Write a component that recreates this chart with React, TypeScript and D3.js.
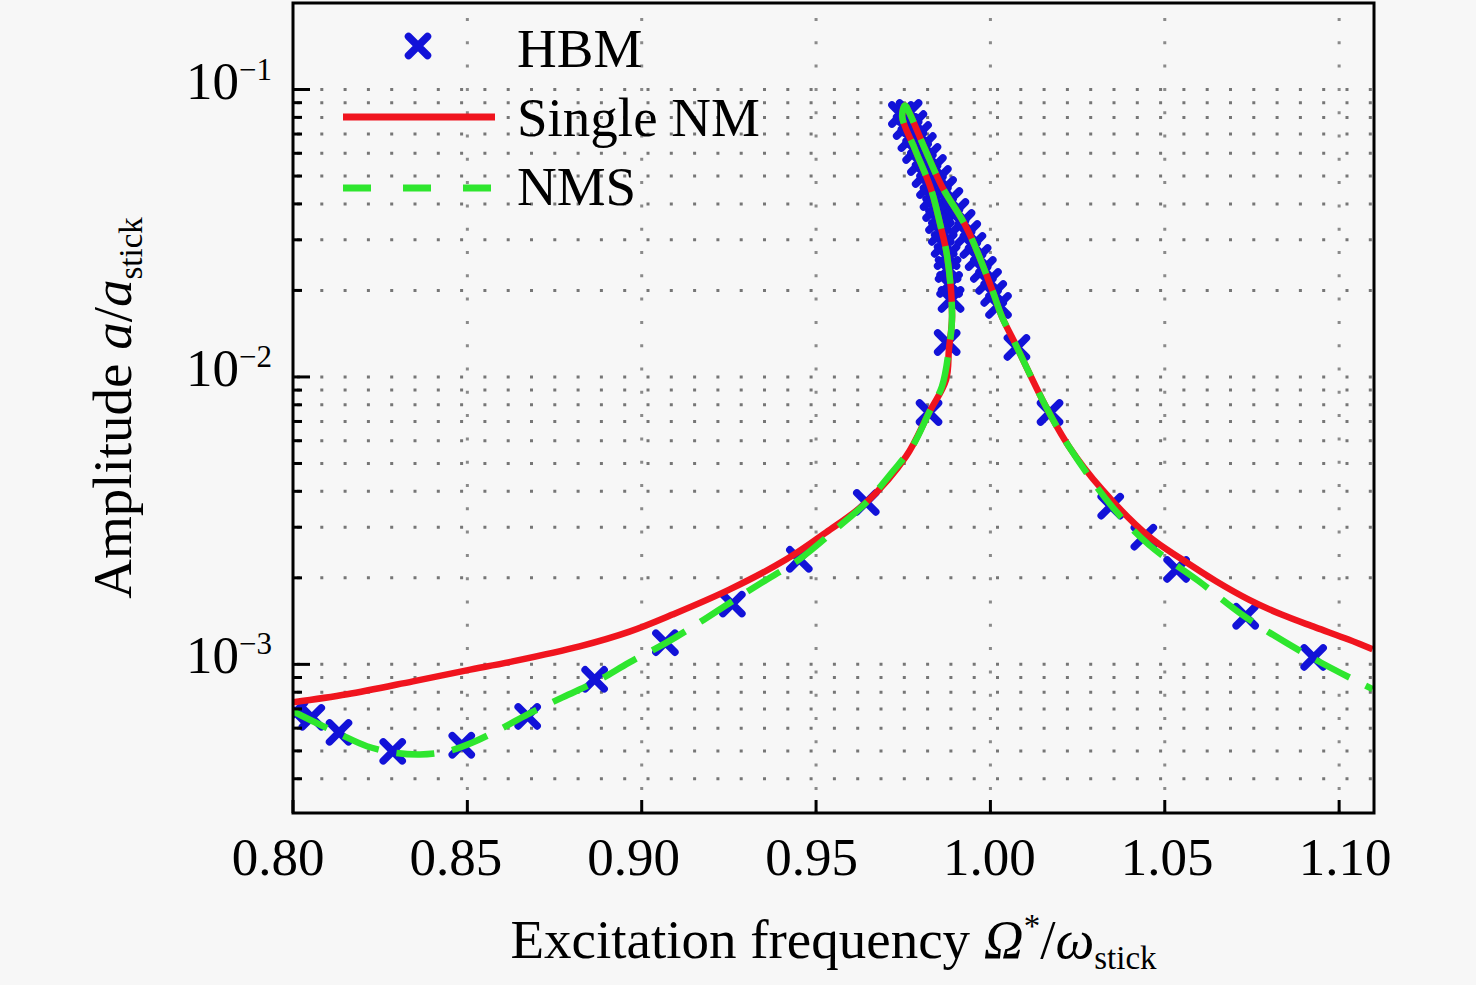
import React, { useRef, useEffect } from 'react';
import * as d3 from 'd3';

// HBM reference solution (markers)
const hbmFreq = [
    // lower left branch
    0.8006, 0.8054, 0.8132, 0.8286, 0.8484, 0.8673, 0.8865, 0.9068, 0.926, 0.9452, 0.9644, 0.9824, 0.9876,
    // left strand of the fold
    0.98872, 0.98829, 0.98786, 0.98757, 0.98674, 0.98594, 0.98511, 0.98428, 0.98354, 0.98253, 0.98127, 0.97993,
    0.97855, 0.9772, 0.97583, 0.97448,
    // right strand of the fold
    0.97669, 0.97806, 0.97941, 0.98076, 0.9821, 0.98365, 0.98508, 0.98657, 0.98837, 0.99011, 0.99187, 0.9935,
    0.99499, 0.99648, 0.99797, 0.99946, 1.00095, 1.00232,
    // right branch
    1.0076, 1.0171, 1.0345, 1.044, 1.0534, 1.0732, 1.0927,
];
const hbmAmp = [
    6.81e-4, 6.54e-4, 5.8e-4, 4.98e-4, 5.23e-4, 6.59e-4, 8.87e-4, 1.19e-3, 1.62e-3, 2.32e-3, 3.66e-3, 7.52e-3, 1.318e-2,
    0.01861, 0.02098, 0.02366, 0.02625, 0.0289, 0.03182, 0.03502, 0.03855, 0.0421, 0.04635, 0.05062, 0.05573,
    0.06135, 0.06753, 0.07435, 0.08185,
    0.08318, 0.07615, 0.06973, 0.06384, 0.05848, 0.05354, 0.04902, 0.04489, 0.04111, 0.03763, 0.03446, 0.03155,
    0.02867, 0.02604, 0.02366, 0.02149, 0.01952, 0.01773,
    0.01267, 7.52e-3, 3.55e-3, 2.77e-3, 2.14e-3, 1.47e-3, 1.057e-3,
];

// fold around the resonance, shared by both models
const peakFreq = [0.989, 0.9876, 0.9856, 0.983, 0.9784, 0.9747, 0.9755, 0.9767, 0.9813, 0.9861, 0.9934, 1.0005, 1.0033, 1.0068, 1.0159];
const peakAmp = [0.01622, 0.02625, 0.0339, 0.0449, 0.0618, 0.0806, 0.088, 0.0832, 0.0618, 0.046, 0.0326, 0.0201, 0.0162, 0.01329, 0.00789];

// Single NM
const singleLeftFreq = [0.8, 0.8155, 0.8344, 0.8498, 0.863, 0.8822, 0.8965, 0.9088, 0.9251, 0.9415, 0.9529, 0.9644, 0.9758, 0.9824, 0.9873, 0.9881];
const singleLeftAmp = [7.38e-4, 7.87e-4, 8.73e-4, 9.53e-4, 1.024e-3, 1.155e-3, 1.3e-3, 1.49e-3, 1.82e-3, 2.32e-3, 2.88e-3, 3.66e-3, 5.29e-3, 7.52e-3, 9.8e-3, 1.247e-2];
const singleRightFreq = [1.0225, 1.032, 1.0454, 1.0549, 1.0646, 1.0741, 1.0835, 1.0932, 1.1027, 1.1096];
const singleRightAmp = [5.73e-3, 4.06e-3, 2.79e-3, 2.32e-3, 1.95e-3, 1.68e-3, 1.49e-3, 1.345e-3, 1.22e-3, 1.128e-3];

// NMS
const nmsLeftFreq = [0.8, 0.8057, 0.8135, 0.8212, 0.8286, 0.8364, 0.8441, 0.8515, 0.8593, 0.8673, 0.8773, 0.8871, 0.8965, 0.9071, 0.9166, 0.926, 0.9346, 0.9452, 0.9566, 0.9644, 0.9718, 0.9776, 0.9824, 0.9861, 0.9881];
const nmsLeftAmp = [6.86e-4, 6.34e-4, 5.71e-4, 5.19e-4, 4.94e-4, 4.86e-4, 4.98e-4, 5.35e-4, 5.94e-4, 6.7e-4, 7.68e-4, 8.73e-4, 1.016e-3, 1.19e-3, 1.4e-3, 1.66e-3, 1.93e-3, 2.32e-3, 3.02e-3, 3.66e-3, 4.66e-3, 5.73e-3, 7.52e-3, 9.27e-3, 1.247e-2];
const nmsRightFreq = [1.0225, 1.0348, 1.0454, 1.0597, 1.0732, 1.0921, 1.1096];
const nmsRightAmp = [5.73e-3, 3.55e-3, 2.61e-3, 1.95e-3, 1.46e-3, 1.057e-3, 8.2e-4];

const xTicks = [0.8, 0.85, 0.9, 0.95, 1.0, 1.05, 1.1];
const yDecades = [-1, -2, -3];
const legendLabels = ['HBM', 'Single NM', 'NMS'];

const FONT = '"Liberation Serif", "Times New Roman", serif';
const RED = '#f0141e';
const GREEN = '#2ee62e';
const BLUE = '#1212d8';

const zip = (a: number[], b: number[]) => a.map((v, i) => [v, b[i]] as [number, number]);

const App: React.FC = () => {
    const svgRef = useRef<SVGSVGElement | null>(null);

    useEffect(() => {
        const svg = d3.select(svgRef.current);
        svg.selectAll('*').remove();

        const left = 293, right = 1374, top = 3, bottom = 813;

        const xScale = d3.scaleLinear().domain([0.8, 1.11]).range([left, right]);
        const yScale = d3.scaleLog().domain([3.04e-4, 0.2]).range([bottom, top]);
        // tick labels sit slightly wider apart than the ticks in the original
        const labelScale = d3.scaleLinear().domain([0.8, 1.1]).range([278, 1345]);

        svg.append('rect').attr('width', 1476).attr('height', 985).attr('fill', '#f7f7f7');

        svg.append('defs').append('clipPath').attr('id', 'plot-clip')
            .append('rect')
            .attr('x', left).attr('y', top)
            .attr('width', right - left).attr('height', bottom - top);

        // minor values for log grid
        const minor: number[] = [];
        for (let d = -4; d <= -1; d++) {
            for (let m = 1; m <= 9; m++) {
                const v = m * Math.pow(10, d);
                if (v >= 3.5e-4 && v <= 0.1 + 1e-9) minor.push(v);
            }
        }

        // dotted grid
        svg.append('g').selectAll('line')
            .data(minor)
            .enter()
            .append('line')
            .attr('x1', left + 4).attr('x2', right)
            .attr('y1', d => yScale(d)).attr('y2', d => yScale(d))
            .attr('stroke', '#767676')
            .attr('stroke-width', 3)
            .attr('stroke-dasharray', '3 20.3');

        svg.append('g').selectAll('line')
            .data(xTicks.slice(1))
            .enter()
            .append('line')
            .attr('x1', d => xScale(d)).attr('x2', d => xScale(d))
            .attr('y1', top + 15).attr('y2', bottom)
            .attr('stroke', '#8a8a8a')
            .attr('stroke-width', 3)
            .attr('stroke-dasharray', '3 20.3');

        const plot = svg.append('g').attr('clip-path', 'url(#plot-clip)');

        // HBM markers
        const cross = 'M-9.5,-9.5L9.5,9.5M-9.5,9.5L9.5,-9.5';
        plot.selectAll('.hbm')
            .data(zip(hbmFreq, hbmAmp))
            .enter()
            .append('path')
            .attr('class', 'hbm')
            .attr('d', cross)
            .attr('transform', d => `translate(${xScale(d[0])},${yScale(d[1])})`)
            .attr('stroke', BLUE)
            .attr('stroke-width', 7.5)
            .attr('stroke-linecap', 'round')
            .attr('fill', 'none');

        const line = d3.line<[number, number]>()
            .x(d => xScale(d[0]))
            .y(d => yScale(d[1]))
            .curve(d3.curveCatmullRom.alpha(0.5));

        const singlePts = [
            ...zip(singleLeftFreq, singleLeftAmp),
            ...zip(peakFreq, peakAmp),
            ...zip(singleRightFreq, singleRightAmp),
        ];
        const nmsPts = [
            ...zip(nmsLeftFreq, nmsLeftAmp),
            ...zip(peakFreq, peakAmp),
            ...zip(nmsRightFreq, nmsRightAmp),
        ];

        plot.append('path')
            .attr('d', line(singlePts))
            .attr('fill', 'none')
            .attr('stroke', RED)
            .attr('stroke-width', 6.5)
            .attr('stroke-linejoin', 'round');

        plot.append('path')
            .attr('d', line(nmsPts))
            .attr('fill', 'none')
            .attr('stroke', GREEN)
            .attr('stroke-width', 6.5)
            .attr('stroke-dasharray', '38 18');

        // frame
        svg.append('rect')
            .attr('x', left).attr('y', top)
            .attr('width', right - left).attr('height', bottom - top)
            .attr('fill', 'none')
            .attr('stroke', '#000')
            .attr('stroke-width', 3);

        // y ticks (inward, left only)
        svg.append('g').selectAll('line')
            .data(minor)
            .enter()
            .append('line')
            .attr('x1', left)
            .attr('x2', d => left + (Math.abs(Math.log10(d) - Math.round(Math.log10(d))) < 1e-6 ? 17 : 9))
            .attr('y1', d => yScale(d)).attr('y2', d => yScale(d))
            .attr('stroke', '#000')
            .attr('stroke-width', 3);

        // x ticks
        svg.append('g').selectAll('line')
            .data(xTicks)
            .enter()
            .append('line')
            .attr('x1', d => xScale(d)).attr('x2', d => xScale(d))
            .attr('y1', bottom).attr('y2', bottom - 13)
            .attr('stroke', '#000')
            .attr('stroke-width', 3);

        // x tick labels
        svg.append('g').selectAll('text')
            .data(xTicks)
            .enter()
            .append('text')
            .attr('x', d => labelScale(d))
            .attr('y', 875)
            .attr('text-anchor', 'middle')
            .style('font-family', FONT)
            .style('font-size', '53px')
            .text(d => d.toFixed(2));

        // y tick labels 10^k
        const yl = svg.append('g').selectAll('text')
            .data(yDecades)
            .enter()
            .append('text')
            .attr('x', 272)
            .attr('y', d => yScale(Math.pow(10, d)) + 9)
            .attr('text-anchor', 'end')
            .style('font-family', FONT)
            .style('font-size', '53px');
        yl.append('tspan').text('10');
        yl.append('tspan')
            .attr('dy', -19)
            .style('font-size', '31px')
            .text(d => `\u2212${-d}`);

        // axis titles
        const xt = svg.append('text')
            .attr('x', (left + right) / 2)
            .attr('y', 958)
            .attr('text-anchor', 'middle')
            .style('font-family', FONT)
            .style('font-size', '55px');
        xt.append('tspan').text('Excitation frequency ');
        xt.append('tspan').style('font-style', 'italic').text('\u03A9');
        xt.append('tspan').attr('dy', -21).style('font-size', '33px').text('*');
        xt.append('tspan').attr('dy', 21).text('/');
        xt.append('tspan').style('font-style', 'italic').text('\u03C9');
        xt.append('tspan').attr('dy', 11).style('font-size', '33px').text('stick');

        const yt = svg.append('text')
            .attr('transform', `translate(131,${(top + bottom) / 2}) rotate(-90)`)
            .attr('text-anchor', 'middle')
            .style('font-family', FONT)
            .style('font-size', '55px');
        yt.append('tspan').text('Amplitude ');
        yt.append('tspan').style('font-style', 'italic').text('a');
        yt.append('tspan').text('/');
        yt.append('tspan').style('font-style', 'italic').text('a');
        yt.append('tspan').attr('dy', 11).style('font-size', '33px').text('stick');

        // legend
        const legend = svg.append('g');
        legend.append('path')
            .attr('d', cross)
            .attr('transform', 'translate(418,46)')
            .attr('stroke', BLUE)
            .attr('stroke-width', 7.5)
            .attr('stroke-linecap', 'round');
        legend.append('line')
            .attr('x1', 343).attr('x2', 495).attr('y1', 117).attr('y2', 117)
            .attr('stroke', RED).attr('stroke-width', 7);
        legend.append('line')
            .attr('x1', 343).attr('x2', 495).attr('y1', 188).attr('y2', 188)
            .attr('stroke', GREEN).attr('stroke-width', 7)
            .attr('stroke-dasharray', '28 32');
        legend.selectAll('text')
            .data(legendLabels)
            .enter()
            .append('text')
            .attr('x', 517)
            .attr('y', (_, i) => 67 + i * 69)
            .style('font-family', FONT)
            .style('font-size', '55px')
            .text(d => d);
    }, []);

    return (
        <svg ref={svgRef} width={1476} height={985} style={{ position: 'absolute', left: 0, top: 0 }}></svg>
    );
};

export default App;
